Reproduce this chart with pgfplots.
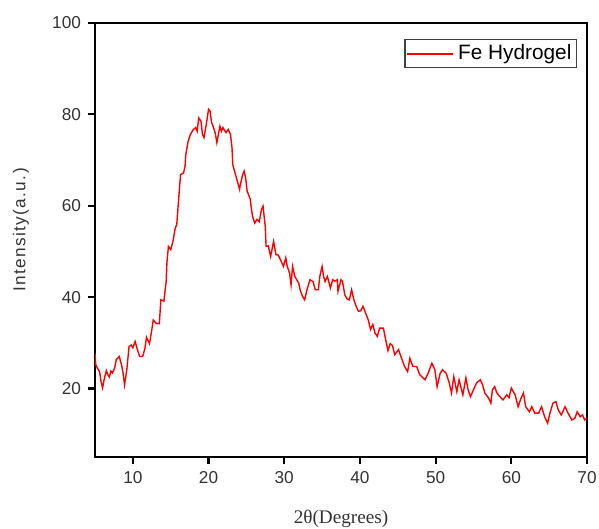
\documentclass[border=0pt]{standalone}
\usepackage{fontspec}
\setmainfont{Liberation Sans}
\newfontfamily\serifface{Liberation Serif}
\usepackage{pgfplots}
\pgfplotsset{compat=1.18}

\begin{document}
\begin{tikzpicture}
\begin{axis}[
  scale only axis,
  width=246pt, height=217pt,
  xmin=5, xmax=70, ymin=5, ymax=100,
  xtick={10,20,30,40,50,60,70},
  ytick={20,40,60,80,100},
  axis line style={line width=1.3pt},
  tick style={line width=1.1pt, black},
  major tick length=3.5pt,
  tick align=outside,
  xtick pos=bottom, ytick pos=left,
  /pgf/number format/assume math mode=true,
  tick label style={font=\fontsize{8.6}{10}\selectfont, text=black!80},
  xlabel={\serifface 2θ(Degrees)},
  ylabel={\addfontfeature{LetterSpace=8}Intensity(a.u.)},
  xlabel style={font=\fontsize{9.6}{11}\selectfont, text=black!80,
    at={(axis description cs:0.5,0)}, anchor=north, yshift=-23pt},
  ylabel style={font=\fontsize{8.6}{10}\selectfont, text=black!80,
    at={(axis description cs:0,0.5)}, anchor=center, xshift=5pt, yshift=37pt},
  legend style={at={(1,1)}, anchor=north east, xshift=-5pt, yshift=-8pt,
    draw=black!75, line width=0.6pt, inner sep=0.5pt,
    font=\fontsize{10.4}{12}\selectfont,
    /tikz/every even column/.append style={column sep=0pt}},
  legend cell align=left,
]
\addplot[red, line width=0.7pt,
  legend image code/.code={\draw[red, line width=1.05pt] (0pt,0pt) -- (23pt,0pt);}]
  coordinates {
(5.0,27.6) (5.1,25.2) (5.3,24.5) (5.6,23.7) (5.8,21.5) (6.0,20.1) (6.2,21.9)
(6.5,23.9) (6.7,23.0) (6.9,22.5) (7.1,23.8) (7.3,23.4) (7.6,24.5) (7.8,26.3)
(8.2,27.0) (8.4,25.8) (8.5,25.2) (8.7,23.5) (8.9,20.8) (9.2,24.1) (9.5,29.2)
(9.8,29.5) (10.0,28.9) (10.3,30.3) (10.6,28.5) (10.9,27.0) (11.3,27.0) (11.6,28.8)
(11.8,31.2) (12.2,29.8) (12.5,32.8) (12.7,35.0) (13.1,34.2) (13.5,34.2) (13.7,39.4)
(14.1,39.1) (14.4,43.4) (14.5,47.5) (14.7,51.1) (15.0,50.4) (15.3,52.2) (15.6,55.1)
(15.8,55.9) (16.1,62.5) (16.3,66.8) (16.7,67.2) (16.9,68.7) (17.0,71.2) (17.3,74.1)
(17.6,75.6) (18.0,76.7) (18.3,77.1) (18.5,76.3) (18.7,79.2) (19.0,78.5) (19.2,75.6)
(19.4,74.9) (19.7,77.8) (20.0,81.1) (20.2,80.7) (20.4,78.2) (20.6,77.4) (20.9,75.8)
(21.1,73.8) (21.3,75.6) (21.5,77.4) (21.7,76.3) (21.9,77.1) (22.3,76.0) (22.6,76.7)
(22.9,75.6) (23.1,72.7) (23.2,69.0) (23.5,67.2) (23.8,65.4) (24.1,63.6) (24.2,64.6)
(24.5,66.8) (24.7,67.6) (24.9,66.1) (25.1,63.2) (25.5,61.5) (25.8,57.7) (26.1,56.2)
(26.4,57.0) (26.7,56.5) (27.0,59.2) (27.2,59.9) (27.5,55.3) (27.6,51.1) (27.9,51.2)
(28.2,48.9) (28.6,52.2) (28.9,49.3) (29.2,49.2) (29.5,48.2) (29.9,46.7) (30.2,48.6)
(30.4,46.7) (30.7,45.3) (30.9,42.7) (31.1,46.7) (31.4,44.5) (31.9,43.1) (32.1,41.6)
(32.4,40.2) (32.7,39.4) (33.0,41.6) (33.4,43.8) (33.8,43.4) (34.1,41.6) (34.5,41.6)
(34.7,44.5) (35.0,46.7) (35.2,44.5) (35.4,43.4) (35.7,44.5) (36.1,42.0) (36.4,43.8)
(36.7,43.5) (37.0,43.8) (37.1,41.3) (37.5,43.8) (37.7,43.4) (38.0,40.5) (38.3,39.6)
(38.6,39.4) (38.9,41.6) (39.2,39.4) (39.5,38.0) (39.8,36.9) (40.1,37.0) (40.4,38.0)
(40.7,36.7) (41.1,35.0) (41.4,32.9) (41.7,34.0) (42.0,32.1) (42.3,31.4) (42.6,33.2)
(43.1,33.2) (43.4,30.7) (43.7,28.3) (44.0,29.8) (44.3,29.4) (44.6,27.4) (45.1,28.5)
(45.5,26.6) (45.9,24.8) (46.3,23.7) (46.6,26.6) (47.0,24.8) (47.5,24.8) (47.9,23.0)
(48.6,21.9) (49.0,23.3) (49.5,25.5) (49.9,24.1) (50.2,20.4) (50.6,23.3) (50.9,24.1)
(51.4,23.3) (51.8,21.2) (52.1,19.0) (52.4,22.6) (52.8,19.3) (53.1,21.9) (53.6,18.6)
(54.0,22.3) (54.3,19.7) (54.6,18.2) (55.0,19.7) (55.4,21.2) (55.9,21.9) (56.2,20.8)
(56.5,19.0) (57.0,17.9) (57.3,16.8) (57.5,19.7) (57.8,20.4) (58.1,19.0) (58.5,18.2)
(58.9,17.5) (59.4,18.6) (59.7,18.0) (60.0,20.1) (60.5,18.6) (60.9,16.0) (61.2,17.5)
(61.6,19.0) (61.9,16.0) (62.4,14.9) (62.7,16.0) (63.1,14.6) (63.6,14.6) (64.0,16.0)
(64.4,13.8) (64.8,12.4) (65.1,14.6) (65.5,16.8) (65.9,17.1) (66.2,15.3) (66.6,14.2)
(67.1,16.0) (67.5,14.6) (68.0,13.1) (68.4,13.5) (68.7,14.9) (69.1,13.8) (69.4,14.2)
(69.7,13.1) (70.0,13.5)
};
\addlegendentry{Fe Hydrogel}
\end{axis}
\pgfresetboundingbox
\useasboundingbox ([shift={(-47.5pt,-36pt)}]current axis.south west)
  rectangle ([shift={(6pt,11.5pt)}]current axis.north east);
\end{tikzpicture}
\end{document}
